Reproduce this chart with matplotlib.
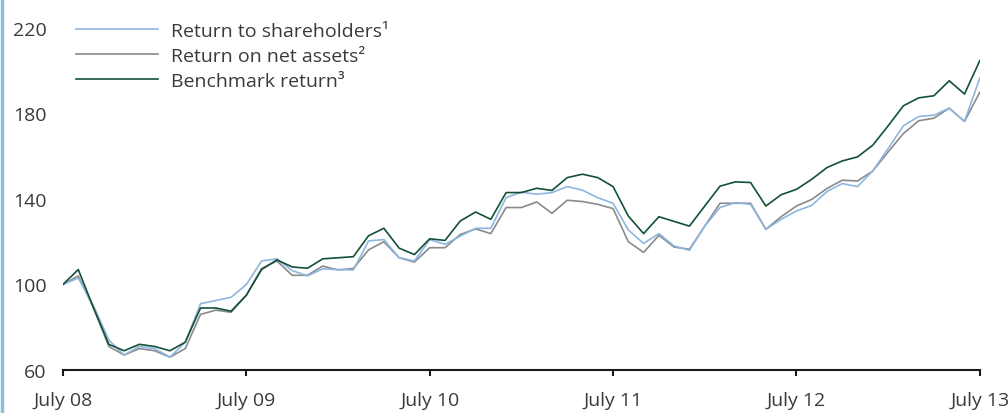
import matplotlib
matplotlib.use("Agg")
from matplotlib import pyplot as plt
from matplotlib.lines import Line2D

# monthly index values, July 2008 = 100
shareholders = [100, 103, 90, 74, 67, 71, 70, 66, 73, 91, 92.5, 94, 100,
                111, 112, 106.5, 104, 107.3, 107, 106.8, 120.4, 121, 112.5, 111,
                121, 118.8, 122.6, 126.3, 126.3, 140.6, 143.2, 142.2, 143, 145.8,
                144.1, 140.6, 138, 125.5, 119.2, 123.8, 118, 116, 127.3, 136,
                138.3, 137.5, 125.8, 130.5, 134.4, 137, 143.5, 147.2, 145.8,
                153.1, 163.6, 174.2, 178.6, 179.2, 182.5, 176.3, 196.6]
net_assets = [100, 104, 89, 71, 67, 70, 69, 66, 70, 86, 88, 87, 95,
              107.5, 111, 104.3, 104.3, 108.6, 106.8, 107.5, 116.2, 120, 112.5, 110.5,
              117.2, 117.2, 123.4, 126, 123.8, 136, 136, 138.6, 133.3, 139.4,
              138.8, 137.5, 135.5, 120, 115, 123, 117.5, 116.5, 127.3, 138,
              138, 138, 125.8, 131.7, 136.7, 139.8, 144.9, 148.8, 148.4,
              153.1, 162, 170.6, 176.6, 177.8, 182.5, 176.3, 189.9]
benchmark = [100, 107, 89, 72, 69, 72, 71, 69, 73, 89, 89, 87.5, 95,
             107, 111.5, 108.2, 107.6, 112, 112.5, 113, 122.8, 126.3, 117, 114,
             121.4, 120.6, 129.7, 133.9, 130.5, 143, 143, 145, 144, 150,
             151.6, 150, 145.8, 132, 123.8, 131.7, 129.5, 127.3, 136.7, 146,
             148, 147.7, 136.7, 142, 144.5, 149.2, 154.7, 157.8, 159.7,
             165.2, 174.2, 183.6, 187.3, 188.3, 195.3, 189.1, 204.7]

tick_months = [0, 12, 24, 36, 48, 60]
tick_labels = ["July 08", "July 09", "July 10", "July 11", "July 12", "July 13"]
y_ticks = [60, 100, 140, 180, 220]
series_names = ["Return to shareholders\u00b9", "Return on net assets\u00b2",
                "Benchmark return\u00b3"]

plt.rcParams['font.family'] = ['Open Sans', 'DejaVu Sans']
text_color = '#3a3a3a'
fs = 14

fig = plt.figure(figsize=(10.08, 4.14), dpi=100)
ax = fig.add_axes([0.0625, 0.1039, 0.9095, 0.8261])

months = range(len(benchmark))
l1, = ax.plot(months, shareholders, color='#8db7e0', lw=1.2, zorder=3)
l2, = ax.plot(months, net_assets, color='#8a8a8a', lw=1.2, zorder=2)
l3, = ax.plot(months, benchmark, color='#13503a', lw=1.2, zorder=4)

ax.set_xlim(0, 60)
ax.set_ylim(60, 220)
ax.set_xticks(tick_months)
ax.set_xticklabels(tick_labels)
ax.set_yticks(y_ticks)

for s in ['top', 'right', 'left']:
    ax.spines[s].set_visible(False)
ax.spines['bottom'].set_linewidth(1.5)
ax.spines['bottom'].set_color('#1a1a1a')
ax.tick_params(axis='x', direction='out', length=4.5, width=1.5, color='#1a1a1a',
               labelsize=fs, labelcolor=text_color, pad=10.5)
ax.tick_params(axis='y', length=0, labelsize=fs, labelcolor=text_color, pad=12)

leg = ax.legend([l1, l2, l3], series_names, loc='upper left',
                bbox_to_anchor=(0.0754, 0.945), bbox_transform=fig.transFigure,
                frameon=False, fontsize=fs, handlelength=4.2,
                handletextpad=0.67, labelspacing=0.37, borderaxespad=0,
                borderpad=0)
for t in leg.get_texts():
    t.set_color(text_color)

# thin blue rule on the left edge
fig.add_artist(Line2D([0.0015, 0.0015], [0, 1], transform=fig.transFigure,
                      color='#8cc0e2', lw=2.5))

fig.savefig('out.png', dpi=100)
